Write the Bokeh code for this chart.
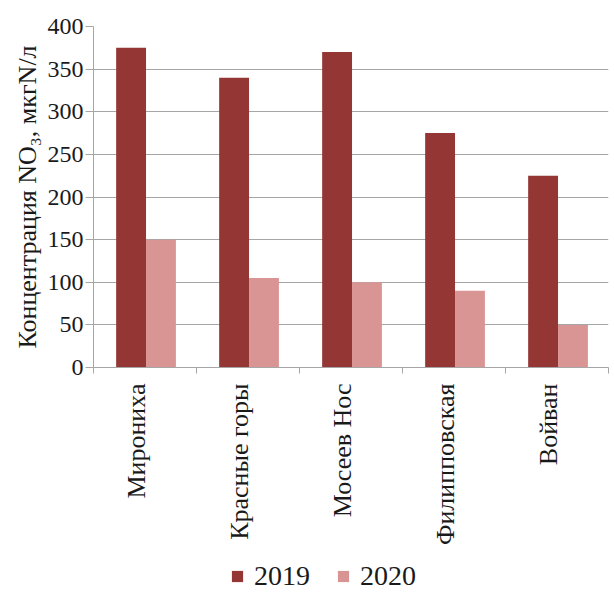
import math
from bokeh.plotting import figure
from bokeh.layouts import column
from bokeh.models import FixedTicker, Legend, LegendItem, ColumnDataSource, Range1d
from bokeh.embed import file_html
from bokeh.resources import INLINE

sites = ["Мирониха", "Красные горы", "Мосеев Нос", "Филипповская", "Войван"]
no3_2019 = [375, 340, 370, 275, 225]
no3_2020 = [150, 105, 100, 90, 50]
years = ["2019", "2020"]
y_ticks = [0, 50, 100, 150, 200, 250, 300, 350, 400]

FONT = "Liberation Serif"
C2019 = "#943634"
C2020 = "#D99594"
GRID = "#A6A6A6"
TXT = "#1a1a1a"

pos = [i + 1 for i in range(len(sites))]
src = ColumnDataSource(dict(
    x19=[x - 0.135 for x in pos],
    x20=[x + 0.155 for x in pos],
    v19=no3_2019,
    v20=no3_2020,
))

p = figure(width=614, height=549, output_backend="svg", toolbar_location=None,
           x_range=Range1d(0.5, len(sites) + 0.5), y_range=Range1d(0, 400),
           min_border_left=93, min_border_right=6, min_border_top=26,
           min_border_bottom=182)
p.outline_line_color = None
p.background_fill_color = "white"

p.vbar(x="x19", top="v19", width=0.29, source=src, fill_color=C2019, line_color=None)
p.vbar(x="x20", top="v20", width=0.29, source=src, fill_color=C2020, line_color=None)

# y axis
p.yaxis.ticker = FixedTicker(ticks=y_ticks)
p.yaxis.axis_label = "Концентрация NO₃, мкгN/л"
p.yaxis.axis_label_text_font = FONT
p.yaxis.axis_label_text_font_style = "normal"
p.yaxis.axis_label_text_font_size = "26px"
p.yaxis.axis_label_text_color = TXT
p.yaxis.axis_label_standoff = 3
p.yaxis.major_label_text_font = FONT
p.yaxis.major_label_text_font_size = "24px"
p.yaxis.major_label_text_color = TXT
p.yaxis.major_tick_out = 8
p.yaxis.major_tick_in = 0
p.yaxis.minor_tick_out = 0
p.yaxis.minor_tick_in = 0
p.yaxis.axis_line_color = GRID
p.yaxis.major_tick_line_color = GRID
p.yaxis.major_label_standoff = 2

# x axis: labels near category centres, tick marks at category boundaries
label_pos = [x - 0.085 for x in pos]
p.xaxis.ticker = FixedTicker(ticks=label_pos, minor_ticks=[x - 0.5 for x in pos] + [pos[-1] + 0.5])
p.xaxis.major_label_overrides = {x: s for x, s in zip(label_pos, sites)}
p.xaxis.major_label_orientation = math.pi / 2
p.xaxis.major_label_text_font = FONT
p.xaxis.major_label_text_font_size = "26px"
p.xaxis.major_label_text_color = TXT
p.xaxis.major_tick_out = 0
p.xaxis.major_tick_in = 0
p.xaxis.minor_tick_out = 6
p.xaxis.minor_tick_in = 0
p.xaxis.minor_tick_line_color = GRID
p.xaxis.axis_line_color = GRID
p.xaxis.major_label_standoff = 10

p.xgrid.grid_line_color = None
p.ygrid.grid_line_color = GRID
p.ygrid.ticker = FixedTicker(ticks=y_ticks)

# legend strip below the chart (its bars lie outside its visible range)
lg = figure(width=614, height=43, output_backend="svg", toolbar_location=None,
            x_range=Range1d(0, 1), y_range=Range1d(1000, 1001),
            min_border_left=0, min_border_right=0, min_border_top=0, min_border_bottom=0)
lg.axis.visible = False
lg.grid.visible = False
lg.outline_line_color = None
l19 = lg.vbar(x="x19", top="v19", width=0.29, source=src, fill_color=C2019, line_color=None)
l20 = lg.vbar(x="x20", top="v20", width=0.29, source=src, fill_color=C2020, line_color=None)

legend = Legend(items=[LegendItem(label=years[0], renderers=[l19]),
                       LegendItem(label=years[1], renderers=[l20])],
                orientation="horizontal", location=(137, 0))
legend.label_text_font = FONT
legend.label_text_font_size = "28px"
legend.label_text_color = TXT
legend.glyph_width = 14
legend.glyph_height = 14
legend.spacing = 26
legend.label_standoff = 10
legend.padding = 0
legend.margin = 0
legend.border_line_color = None
legend.background_fill_alpha = 0
lg.add_layout(legend, "center")

layout = column(p, lg, spacing=0)
open("out.html", "w").write(file_html(layout, INLINE))
